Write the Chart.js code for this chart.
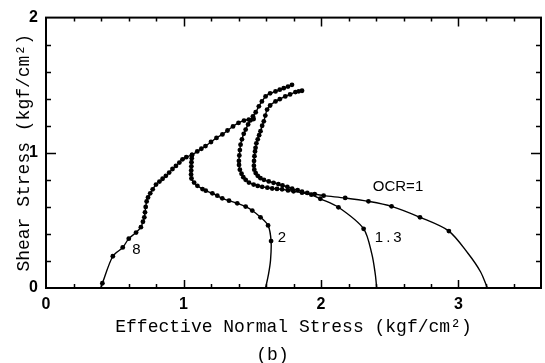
<!DOCTYPE html>
<html>
<head>
<meta charset="utf-8">
<script src="https://cdn.jsdelivr.net/npm/chart.js@4.4.1/dist/chart.umd.min.js"></script>
<style>
  html, body { margin: 0; padding: 0; background: #ffffff; }
  #wrap { width: 545px; height: 363px; position: relative; }
</style>
</head>
<body>
<div id="wrap"><canvas id="c" width="545" height="363"></canvas></div>
<script>
// ---------- data ----------
const xTickValues = [0, 1, 2, 3];
const yTickValues = [0, 1, 2];
const xRange = [0, 3.6];
const yRange = [0, 2];
const minorStep = 0.2;

// OCR = 1 : curve start (no markers) and measured points
const ocr1Tail = [[3.21, 0.0], [3.16, 0.12], [3.07, 0.255]];
const ocr1Dots = [
  [2.93, 0.421], [2.72, 0.523], [2.513, 0.604], [2.345, 0.641], [2.176, 0.666],
  [2.019, 0.683], [1.954, 0.695], [1.90, 0.703], [1.862, 0.712], [1.83, 0.724],
  [1.79, 0.735], [1.755, 0.748], [1.72, 0.758], [1.69, 0.769], [1.655, 0.778],
  [1.62, 0.788], [1.585, 0.80], [1.56, 0.812], [1.54, 0.83], [1.525, 0.85],
  [1.515, 0.875], [1.512, 0.905], [1.513, 0.94], [1.516, 0.975], [1.52, 1.01],
  [1.524, 1.037], [1.53, 1.07], [1.54, 1.10], [1.55, 1.13], [1.56, 1.16],
  [1.572, 1.20], [1.584, 1.233], [1.595, 1.275], [1.608, 1.32], [1.63, 1.35],
  [1.669, 1.38], [1.70, 1.397], [1.74, 1.417], [1.775, 1.432], [1.814, 1.449],
  [1.838, 1.455], [1.862, 1.459]
];

// OCR = 1.3
const ocr13Tail = [[2.405, 0.0], [2.395, 0.10], [2.37, 0.25]];
const ocr13Dots = [
  [2.31, 0.438], [2.127, 0.597], [1.995, 0.66], [1.93, 0.69], [1.862, 0.705],
  [1.80, 0.715], [1.76, 0.722], [1.717, 0.73], [1.68, 0.733], [1.645, 0.736],
  [1.61, 0.742], [1.572, 0.748], [1.54, 0.755], [1.51, 0.765], [1.476, 0.78],
  [1.452, 0.80], [1.435, 0.82], [1.422, 0.845], [1.41, 0.875], [1.404, 0.91],
  [1.403, 0.94], [1.406, 0.98], [1.41, 1.02], [1.415, 1.06], [1.425, 1.10],
  [1.438, 1.14], [1.452, 1.172], [1.47, 1.21], [1.488, 1.24], [1.505, 1.27],
  [1.525, 1.30], [1.548, 1.344], [1.57, 1.38], [1.597, 1.417], [1.63, 1.44],
  [1.669, 1.454], [1.70, 1.467], [1.729, 1.478], [1.76, 1.49], [1.789, 1.503]
];

// OCR = 2
const ocr2Tail = [[1.597, 0.0], [1.618, 0.10], [1.633, 0.206]];
const ocr2Dots = [
  [1.637, 0.347], [1.615, 0.463], [1.56, 0.523], [1.50, 0.573], [1.452, 0.602],
  [1.391, 0.626], [1.331, 0.646], [1.282, 0.663], [1.246, 0.683], [1.21, 0.70],
  [1.162, 0.72], [1.138, 0.732], [1.101, 0.756], [1.077, 0.78], [1.058, 0.81],
  [1.055, 0.84], [1.056, 0.87], [1.057, 0.90], [1.058, 0.93], [1.06, 0.96],
  [1.062, 0.984]
];

// OCR = 8
const ocr8Tail = [[0.398, 0.0]];
const ocr8Dots = [
  [0.41, 0.035], [0.486, 0.235], [0.558, 0.30], [0.602, 0.365], [0.655, 0.41],
  [0.69, 0.45], [0.705, 0.49], [0.715, 0.523], [0.72, 0.56], [0.725, 0.60],
  [0.732, 0.64], [0.742, 0.67], [0.758, 0.70], [0.776, 0.73], [0.80, 0.765],
  [0.825, 0.787], [0.848, 0.808], [0.872, 0.83], [0.896, 0.854], [0.92, 0.88],
  [0.945, 0.903], [0.97, 0.928], [0.993, 0.952], [1.02, 0.968], [1.062, 0.984],
  [1.10, 1.01], [1.13, 1.03], [1.16, 1.05], [1.20, 1.08], [1.24, 1.11],
  [1.283, 1.136], [1.32, 1.165], [1.36, 1.195], [1.40, 1.221], [1.44, 1.238],
  [1.475, 1.246], [1.51, 1.25]
];

// curve labels: text and anchor in data units
const curveLabels = [
  { text: 'OCR=1', x: 2.56, y: 0.75, spacing: 0 },
  { text: '1.3', x: 2.50, y: 0.374, spacing: 3 },
  { text: '2', x: 1.715, y: 0.374, spacing: 0 },
  { text: '8', x: 0.657, y: 0.28, spacing: 0 }
];
const xTitle = 'Effective Normal Stress (kgf/cm\u00B2)';
const yTitle = 'Shear Stress (kgf/cm\u00B2)';
const caption = '(b)';

// ---------- build ----------
const pts = a => a.map(p => ({ x: p[0], y: p[1] }));
function curve(tail, dots) {
  return [
    { data: pts(tail.concat(dots)), showLine: true, pointRadius: 0, borderColor: '#000',
      borderWidth: 1.4, tension: 0.3, fill: false },
    { data: pts(dots), showLine: false, pointRadius: 2.4, pointBackgroundColor: '#000',
      pointBorderWidth: 0, pointBorderColor: '#000' }
  ];
}
const datasets = [].concat(
  curve(ocr1Tail, ocr1Dots),
  curve(ocr13Tail, ocr13Dots),
  curve(ocr2Tail, ocr2Dots),
  curve(ocr8Tail, ocr8Dots)
);

const framePlugin = {
  id: 'frame',
  afterDraw(chart) {
    const { ctx, chartArea: a, scales: { x, y } } = chart;
    ctx.save();
    ctx.strokeStyle = '#000';
    ctx.lineWidth = 2;
    ctx.strokeRect(a.left, a.top, a.right - a.left, a.bottom - a.top);
    ctx.lineWidth = 1.5;
    ctx.beginPath();
    const nx = Math.round((xRange[1] - xRange[0]) / minorStep);
    for (let i = 1; i < nx; i++) {
      const v = xRange[0] + i * minorStep;
      const major = Math.abs(v - Math.round(v)) < 1e-6;
      const len = major ? 8 : 4;
      const px = Math.round(x.getPixelForValue(v)) + 0.5;
      ctx.moveTo(px, a.bottom); ctx.lineTo(px, a.bottom - len);
      ctx.moveTo(px, a.top); ctx.lineTo(px, a.top + (major ? 9 : 4));
    }
    const ny = Math.round((yRange[1] - yRange[0]) / minorStep);
    for (let i = 1; i < ny; i++) {
      const v = yRange[0] + i * minorStep;
      const major = Math.abs(v - Math.round(v)) < 1e-6;
      const len = major ? 10 : 5;
      const py = Math.round(y.getPixelForValue(v)) + 0.5;
      ctx.moveTo(a.left, py); ctx.lineTo(a.left + len, py);
      ctx.moveTo(a.right, py); ctx.lineTo(a.right - len, py);
    }
    ctx.stroke();

    ctx.fillStyle = '#000';
    ctx.textAlign = 'center';
    ctx.textBaseline = 'middle';
    ctx.font = '15px "Liberation Sans", Arial, sans-serif';
    curveLabels.forEach(l => {
      ctx.letterSpacing = l.spacing + 'px';
      ctx.fillText(l.text, x.getPixelForValue(l.x), y.getPixelForValue(l.y));
    });
    ctx.letterSpacing = '0px';
    ctx.font = '18px "Liberation Mono", "DejaVu Sans Mono", monospace';
    ctx.fillText(caption, chart.width / 2, 355);
    ctx.restore();
  }
};

new Chart(document.getElementById('c'), {
  type: 'scatter',
  data: { datasets },
  options: {
    responsive: false,
    animation: false,
    devicePixelRatio: 1,
    layout: { padding: { top: 16, right: 2, left: 0, bottom: 0 } },
    plugins: { legend: { display: false }, tooltip: { enabled: false } },
    scales: {
      x: {
        type: 'linear', min: xRange[0], max: xRange[1],
        afterFit: s => { s.height = 75; },
        afterBuildTicks: s => { s.ticks = xTickValues.map(v => ({ value: v })); },
        grid: { display: false, drawTicks: false },
        border: { display: false },
        ticks: { color: '#000', padding: 7, maxRotation: 0,
          font: { family: '"Liberation Sans", Arial, sans-serif', size: 16, weight: 'bold' } },
        title: { display: true, text: xTitle, color: '#000', padding: { top: 0, bottom: 25 },
          font: { family: '"Liberation Mono", "DejaVu Sans Mono", monospace', size: 18 } }
      },
      y: {
        type: 'linear', min: yRange[0], max: yRange[1],
        afterFit: s => { s.width = 46; },
        afterBuildTicks: s => { s.ticks = yTickValues.map(v => ({ value: v })); },
        grid: { display: false, drawTicks: false },
        border: { display: false },
        ticks: { color: '#000', padding: 8,
          font: { family: '"Liberation Sans", Arial, sans-serif', size: 16, weight: 'bold' } },
        title: { display: true, text: yTitle, color: '#000', padding: { top: 13, bottom: 0 },
          font: { family: '"Liberation Mono", "DejaVu Sans Mono", monospace', size: 18 } }
      }
    }
  },
  plugins: [framePlugin]
});
</script>
</body>
</html>
